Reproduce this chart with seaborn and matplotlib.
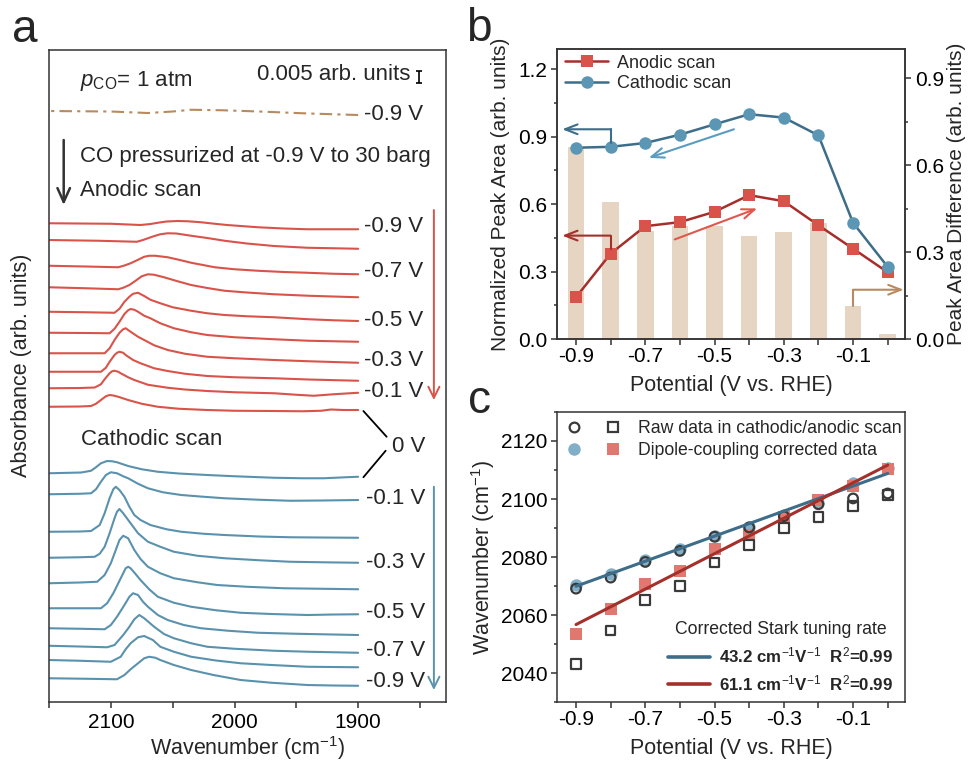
import numpy as np
import matplotlib
matplotlib.use("Agg")
import matplotlib.pyplot as plt
import seaborn as sns
from matplotlib.ticker import FixedLocator, MultipleLocator, NullLocator, FormatStrFormatter
from matplotlib.legend_handler import HandlerTuple
from matplotlib.lines import Line2D

# ---------------- data: panel a (absorbance in 1e-4 arb. units, rel. to 2150 cm-1) ----------------
PCO1_WN = [2150, 2100, 2070, 2050, 2035, 2010, 1980, 1940, 1900]
PCO1_ABS = [0, -2, -8, -2, 5, 3, -2, -10, -16]

ANODIC_V = ["-0.9 V", "-0.8 V", "-0.7 V", "-0.6 V", "-0.5 V", "-0.4 V", "-0.3 V", "-0.2 V", "-0.1 V", "0 V"]
ANODIC_WN = [
    [2150, 2125, 2100, 2076, 2068, 2062, 2055, 2046, 2038, 2027, 2016, 2006, 1981, 1960, 1941, 1920, 1900],
    [2150, 2110, 2079, 2074, 2066, 2060, 2054, 2047, 2035, 2022, 2008, 1990, 1968, 1941, 1920, 1900],
    [2150, 2120, 2094, 2089, 2084, 2078, 2073, 2069, 2064, 2054, 2045, 2035, 2016, 2000, 1981, 1960, 1941, 1920, 1900],
    [2150, 2120, 2094, 2090, 2085, 2080, 2075, 2070, 2065, 2057, 2046, 2035, 2022, 2008, 1990, 1968, 1940, 1920, 1900],
    [2150, 2120, 2097, 2093, 2089, 2085, 2082, 2078, 2073, 2068, 2060, 2050, 2035, 2022, 2008, 1990, 1968, 1940, 1920, 1900],
    [2150, 2120, 2101, 2097, 2093, 2089, 2086, 2084, 2081, 2078, 2073, 2068, 2060, 2049, 2035, 2022, 2000, 1968, 1940, 1920, 1900],
    [2150, 2120, 2105, 2101, 2097, 2093, 2090, 2088, 2084, 2078, 2073, 2065, 2054, 2040, 2022, 2000, 1968, 1940, 1900],
    [2150, 2120, 2108, 2104, 2101, 2097, 2095, 2093, 2090, 2088, 2082, 2076, 2065, 2054, 2040, 2022, 2000, 1968, 1940, 1900],
    [2150, 2125, 2113, 2108, 2105, 2101, 2099, 2097, 2094, 2092, 2086, 2081, 2070, 2054, 2040, 2022, 2000, 1968, 1950, 1936, 1920, 1900],
    [2150, 2125, 2116, 2112, 2108, 2104, 2101, 2098, 2094, 2086, 2075, 2062, 2045, 2022, 2000, 1968, 1945, 1930, 1922, 1912, 1900],
]
ANODIC_ABS = [
    [0, -1, -2, -7, -3, 2, 7, 9, 8, 4, -2, -7, -16, -21, -24, -24, -24],
    [0, -3, -7, 0, 14, 23, 27, 26, 17, 8, -3, -14, -24, -31, -33, -35],
    [0, -3, -6, 1, 10, 24, 36, 40, 40, 34, 24, 12, -6, -14, -20, -25, -28, -32, -34],
    [0, -4, -8, -2, 9, 26, 44, 52, 50, 40, 24, 9, -3, -14, -21, -28, -34, -37, -40],
    [0, -2, -4, 12, 40, 60, 72, 76, 63, 48, 34, 18, 4, -6, -13, -18, -22, -30, -34, -37],
    [0, -1, -2, 16, 44, 75, 90, 95, 92, 84, 68, 58, 38, 18, 2, -9, -18, -26, -32, -34, -36],
    [0, 0, 0, 20, 53, 82, 96, 100, 86, 66, 53, 32, 13, -2, -14, -20, -27, -32, -38],
    [0, 0, 0, 16, 40, 67, 76, 80, 76, 67, 47, 34, 14, 3, -8, -17, -22, -26, -31, -36],
    [0, 1, 3, 16, 36, 60, 68, 70, 66, 60, 44, 33, 14, 2, -5, -11, -16, -20, -26, -30, -24, -18],
    [0, 1, 3, 12, 27, 42, 47, 45, 40, 27, 12, 0, -8, -13, -16, -17, -18, -16, -11, -13, -13],
]

CATHODIC_V = ["0 V", "-0.1 V", "-0.2 V", "-0.3 V", "-0.4 V", "-0.5 V", "-0.6 V", "-0.7 V", "-0.8 V", "-0.9 V"]
CATHODIC_WN = [
    [2150, 2124, 2116, 2112, 2108, 2103, 2099, 2095, 2086, 2075, 2062, 2045, 2022, 2000, 1968, 1945, 1928, 1910, 1900],
    [2150, 2125, 2116, 2112, 2108, 2104, 2100, 2095, 2090, 2086, 2078, 2070, 2058, 2043, 2025, 2008, 1980, 1955, 1930, 1900],
    [2150, 2125, 2116, 2109, 2105, 2101, 2098, 2096, 2093, 2089, 2085, 2081, 2076, 2068, 2055, 2043, 2025, 2008, 1980, 1955, 1930, 1900],
    [2150, 2125, 2113, 2109, 2105, 2101, 2097, 2095, 2093, 2090, 2084, 2078, 2070, 2060, 2049, 2030, 2008, 1980, 1955, 1930, 1900],
    [2150, 2125, 2111, 2105, 2100, 2096, 2093, 2090, 2086, 2081, 2076, 2070, 2060, 2049, 2030, 2014, 1990, 1960, 1930, 1900],
    [2150, 2125, 2108, 2103, 2098, 2094, 2090, 2088, 2086, 2084, 2080, 2076, 2069, 2062, 2049, 2035, 2015, 1995, 1970, 1941, 1920, 1900],
    [2150, 2125, 2105, 2100, 2095, 2089, 2085, 2082, 2078, 2074, 2070, 2062, 2054, 2041, 2027, 2005, 1981, 1950, 1920, 1900],
    [2150, 2125, 2103, 2097, 2090, 2085, 2081, 2077, 2073, 2065, 2057, 2049, 2035, 2022, 2000, 1968, 1940, 1920, 1900],
    [2150, 2125, 2100, 2092, 2088, 2084, 2078, 2073, 2066, 2060, 2049, 2035, 2015, 1995, 1970, 1941, 1920, 1900],
    [2150, 2120, 2095, 2089, 2084, 2078, 2073, 2069, 2064, 2060, 2049, 2035, 2017, 1995, 1970, 1941, 1920, 1900],
]
CATHODIC_ABS = [
    [0, 3, 10, 24, 40, 49, 48, 44, 29, 16, 6, -1, -7, -12, -18, -20, -20, -16, -14],
    [0, 2, 4, 20, 50, 77, 88, 84, 72, 64, 42, 24, 8, -3, -10, -16, -22, -26, -25, -23],
    [0, 1, 3, 27, 74, 134, 170, 180, 167, 140, 100, 67, 47, 27, 10, 0, -8, -13, -19, -22, -23, -24],
    [0, 2, 4, 16, 44, 98, 158, 184, 195, 178, 138, 98, 64, 44, 24, 8, -2, -10, -16, -18, -20],
    [0, 3, 6, 33, 80, 133, 173, 190, 180, 133, 97, 66, 40, 20, 4, -7, -14, -20, -22, -24],
    [0, 0, 0, 20, 60, 100, 140, 160, 166, 160, 137, 113, 76, 46, 22, 6, -8, -18, -23, -27, -25, -24],
    [0, -2, -4, 13, 46, 93, 126, 140, 133, 106, 86, 53, 33, 13, 0, -10, -18, -22, -25, -27],
    [0, -3, -6, 3, 43, 76, 106, 123, 110, 76, 47, 30, 10, -4, -12, -20, -24, -26, -28],
    [0, -3, -7, 13, 43, 67, 91, 96, 80, 53, 33, 13, -2, -13, -20, -27, -28, -29],
    [0, -2, -4, 13, 36, 60, 80, 86, 82, 73, 53, 33, 13, -7, -18, -27, -29, -30],
]

# ---------------- data: panels b and c ----------------
POTENTIAL = [-0.9, -0.8, -0.7, -0.6, -0.5, -0.4, -0.3, -0.2, -0.1, 0.0]
ANODIC_AREA = [0.186, 0.380, 0.502, 0.520, 0.566, 0.640, 0.613, 0.506, 0.402, 0.297]
CATHODIC_AREA = [0.851, 0.855, 0.872, 0.909, 0.955, 1.000, 0.985, 0.906, 0.517, 0.321]
AREA_DIFF = [0.662, 0.472, 0.374, 0.389, 0.389, 0.356, 0.370, 0.399, 0.113, 0.018]

RAW_CATH = [2069.1, 2072.9, 2078.3, 2082.1, 2087.0, 2090.2, 2094.1, 2098.2, 2100.2, 2101.9]
RAW_ANOD = [2043.0, 2054.7, 2065.1, 2070.0, 2078.1, 2084.1, 2090.1, 2093.9, 2097.6, 2101.4]
COR_CATH = [2070.3, 2074.0, 2079.1, 2082.6, 2087.3, 2090.4, 2094.4, 2098.5, 2105.4, 2110.6]
COR_ANOD = [2053.6, 2062.2, 2070.8, 2075.2, 2082.6, 2087.5, 2093.9, 2099.6, 2104.5, 2110.2]
FIT_CATH = (43.2, 2108.8)   # slope (cm-1/V), intercept at 0 V
FIT_ANOD = (61.1, 2111.7)

# colours
RED = "#d9534a"
BLUE = "#5a92ad"
BROWN = "#b88a5e"
RED_DK = "#a5302b"
BLUE_DK = "#3d6d88"
RED_MK = "#d9534a"
BLUE_MK = "#5b97b5"
BAR = "#e6d5c3"
GREY = "#333333"

sns.set_style("ticks")
plt.rcParams["font.family"] = ["Liberation Sans", "DejaVu Sans"]
plt.rcParams["axes.unicode_minus"] = False
plt.rcParams["mathtext.fontset"] = "custom"
plt.rcParams["mathtext.rm"] = "Liberation Sans"
plt.rcParams["mathtext.it"] = "Liberation Sans:italic"
plt.rcParams["mathtext.bf"] = "Liberation Sans:bold"
plt.rcParams["axes.edgecolor"] = GREY
plt.rcParams["axes.linewidth"] = 1.1
plt.rcParams["xtick.color"] = GREY
plt.rcParams["ytick.color"] = GREY
plt.rcParams["xtick.labelcolor"] = "black"
plt.rcParams["ytick.labelcolor"] = "black"

fig = plt.figure(figsize=(9.7, 7.6), dpi=100)

# ======================= panel a =======================
ax_a = fig.add_axes([0.0505, 0.0763, 0.4093, 0.8579])
ANODIC_OFFSET = [1915, 1848, 1745, 1659, 1561, 1477, 1395, 1321, 1255, 1181]
CATHODIC_OFFSET = [915, 831, 681, 577, 475, 375, 295, 225, 168, 95]

sns.lineplot(x=PCO1_WN, y=np.array(PCO1_ABS) + 2364, color=BROWN, lw=1.5,
             linestyle=(0, (6, 2.5, 1.5, 2.5)), estimator=None, ax=ax_a)
for wn, ab, off in zip(ANODIC_WN, ANODIC_ABS, ANODIC_OFFSET):
    sns.lineplot(x=wn, y=np.array(ab) + off, color=RED, lw=1.5, estimator=None, ax=ax_a)
for wn, ab, off in zip(CATHODIC_WN, CATHODIC_ABS, CATHODIC_OFFSET):
    sns.lineplot(x=wn, y=np.array(ab) + off, color=BLUE, lw=1.5, estimator=None, ax=ax_a)

ax_a.set_xlim(2150, 1829)
ax_a.set_ylim(0, 2608)
ax_a.xaxis.set_major_locator(FixedLocator([2100, 2000, 1900]))
ax_a.xaxis.set_minor_locator(FixedLocator([2150, 2050, 1950, 1850]))
ax_a.yaxis.set_major_locator(NullLocator())
ax_a.tick_params(axis="x", which="both", length=4, width=1.1, labelsize=15, pad=4)
ax_a.set_xlabel("Wavenumber (cm$^{-1}$)", fontsize=15.5)
ax_a.set_ylabel("Absorbance (arb. units)", fontsize=15.5)
ax_a.xaxis.set_label_coords(0.5, -0.049)
ax_a.yaxis.set_label_coords(-0.043, 0.517)

fs = 16
ax_a.text(2125, 2464, r"$p_{\mathrm{CO}}$= 1 atm", fontsize=fs, va="baseline")
ax_a.text(1982, 2488, "0.005 arb. units", fontsize=fs, va="baseline")
ax_a.errorbar([1850.5], [2500], yerr=[25], color="black", lw=1.2, capsize=2.5, capthick=1.2)
ax_a.text(1895.6, 2350, "-0.9 V", fontsize=fs, va="center")
ax_a.text(2125, 2181, "CO pressurized at -0.9 V to 30 barg", fontsize=fs, va="center")
ax_a.text(2125, 2045, "Anodic scan", fontsize=fs, va="center")
ax_a.text(2124, 1052, "Cathodic scan", fontsize=fs, va="center")
for lab, y in zip(["-0.9 V", "-0.7 V", "-0.5 V", "-0.3 V", "-0.1 V"], [1901, 1721, 1528, 1368, 1241]):
    ax_a.text(1895.6, y, lab, fontsize=fs, va="center")
for lab, y in zip(["-0.1 V", "-0.3 V", "-0.5 V", "-0.7 V", "-0.9 V"], [816, 560, 358, 208, 84]):
    ax_a.text(1894, y, lab, fontsize=fs, va="center")
ax_a.text(1872.4, 1021, "0 V", fontsize=fs, va="center")
ax_a.plot([1895.8, 1877], [1164, 1061], color="black", lw=1.3)
ax_a.plot([1895.8, 1877.8], [899, 1005], color="black", lw=1.3)

arrow_head = "->,head_length=0.8,head_width=0.4"
ax_a.annotate("", xy=(1838.8, 1208), xytext=(1838.8, 1968),
              arrowprops=dict(arrowstyle=arrow_head, color=RED, lw=1.4, shrinkA=0, shrinkB=0))
ax_a.annotate("", xy=(1838.8, 48), xytext=(1838.8, 861),
              arrowprops=dict(arrowstyle=arrow_head, color=BLUE, lw=1.4, shrinkA=0, shrinkB=0))
ax_a.annotate("", xy=(2138.1, 1988), xytext=(2138.1, 2248),
              arrowprops=dict(arrowstyle="->,head_length=1.0,head_width=0.45", color=GREY, lw=1.8,
                              shrinkA=0, shrinkB=0))

# ======================= panel b =======================
ax_b = fig.add_axes([0.5742, 0.5539, 0.3588, 0.3816])
ax_b2 = ax_b.twinx()
sns.barplot(x=POTENTIAL, y=AREA_DIFF, native_scale=True, width=0.48, color=BAR,
            saturation=1, errorbar=None, linewidth=0, ax=ax_b2)
sns.lineplot(x=POTENTIAL, y=ANODIC_AREA, color=RED_DK, lw=1.8, marker="s", markersize=8.5,
             markerfacecolor=RED_MK, markeredgecolor=RED_MK, markeredgewidth=0,
             label="Anodic scan", estimator=None, ax=ax_b)
sns.lineplot(x=POTENTIAL, y=CATHODIC_AREA, color=BLUE_DK, lw=1.8, marker="o", markersize=9,
             markerfacecolor=BLUE_MK, markeredgecolor=BLUE_MK, markeredgewidth=0,
             label="Cathodic scan", estimator=None, ax=ax_b)
ax_b.set_zorder(ax_b2.get_zorder() + 1)
ax_b.patch.set_visible(False)

ax_b.set_xlim(-0.955, 0.05)
ax_b.set_ylim(0, 1.29)
ax_b2.set_ylim(0, 1.0)
for ax in (ax_b, ax_b2):
    ax.xaxis.set_major_locator(FixedLocator([-0.9, -0.7, -0.5, -0.3, -0.1]))
    ax.xaxis.set_minor_locator(FixedLocator([-0.8, -0.6, -0.4, -0.2, 0.0]))
    ax.yaxis.set_major_locator(MultipleLocator(0.3))
    ax.yaxis.set_minor_locator(MultipleLocator(0.15))
    ax.yaxis.set_major_formatter(FormatStrFormatter("%.1f"))
    ax.tick_params(axis="y", which="major", length=4, width=1.1, labelsize=15, pad=3)
    ax.tick_params(axis="y", which="minor", length=2.5, width=1.1)
ax_b.xaxis.set_major_formatter(FormatStrFormatter("%.1f"))
ax_b.tick_params(axis="x", which="both", length=4, width=1.1, labelsize=15, pad=2)
ax_b.set_xlabel("Potential (V vs. RHE)", fontsize=15.5)
ax_b.set_ylabel("Normalized Peak Area (arb. units)", fontsize=15)
ax_b2.set_ylabel("Peak Area Difference (arb. units)", fontsize=15)
ax_b.xaxis.set_label_coords(0.5, -0.124)
ax_b.yaxis.set_label_coords(-0.135, 0.5)
ax_b2.yaxis.set_label_coords(1.121, 0.5)
ax_b.legend(loc="upper left", bbox_to_anchor=(0.023, 0.981), frameon=False, fontsize=13,
            handlelength=2.4, handletextpad=0.5, labelspacing=0.2, borderpad=0, borderaxespad=0)


def bracket(ax, xs, ys, color):
    ax.plot(xs[:-1], ys[:-1], color=color, lw=1.5)
    ax.annotate("", xy=(xs[-1], ys[-1]), xytext=(xs[-2], ys[-2]),
                arrowprops=dict(arrowstyle="->,head_length=0.9,head_width=0.35", color=color,
                                lw=1.5, shrinkA=0, shrinkB=0))


bracket(ax_b, [-0.8, -0.8, -0.94], [0.87, 0.933, 0.933], BLUE_DK)
bracket(ax_b, [-0.8, -0.8, -0.94], [0.40, 0.460, 0.460], RED_DK)
bracket(ax_b2, [-0.1, -0.1, 0.046], [0.113, 0.170, 0.170], BROWN)
ax_b.annotate("", xy=(-0.69, 0.806), xytext=(-0.444, 0.933),
              arrowprops=dict(arrowstyle="->,head_length=0.9,head_width=0.35", color="#5a9cc0",
                              lw=1.5, shrinkA=0, shrinkB=0))
ax_b.annotate("", xy=(-0.377, 0.581), xytext=(-0.615, 0.443),
              arrowprops=dict(arrowstyle="->,head_length=0.9,head_width=0.35", color="#e0584c",
                              lw=1.5, shrinkA=0, shrinkB=0))

# ======================= panel c =======================
ax_c = fig.add_axes([0.5742, 0.0763, 0.3588, 0.3816])
sns.scatterplot(x=POTENTIAL, y=COR_CATH, marker="o", s=80, color="#82afc8",
                linewidth=0, zorder=2, ax=ax_c)
sns.scatterplot(x=POTENTIAL, y=COR_ANOD, marker="s", s=80, color="#e07870",
                linewidth=0, zorder=2, ax=ax_c)
sns.scatterplot(x=POTENTIAL, y=RAW_CATH, marker="o", s=48, facecolor="none",
                edgecolor="#3a3a3a", linewidth=1.6, zorder=3, ax=ax_c)
sns.scatterplot(x=POTENTIAL, y=RAW_ANOD, marker="s", s=48, facecolor="none",
                edgecolor="#3a3a3a", linewidth=1.6, zorder=3, ax=ax_c)
fit_x = np.array([-0.9, 0.0])
sns.lineplot(x=fit_x, y=FIT_CATH[1] + FIT_CATH[0] * fit_x, color=BLUE_DK, lw=2.2,
             estimator=None, zorder=4, ax=ax_c)
sns.lineplot(x=fit_x, y=FIT_ANOD[1] + FIT_ANOD[0] * fit_x, color=RED_DK, lw=2.2,
             estimator=None, zorder=4, ax=ax_c)

ax_c.set_xlim(-0.955, 0.05)
ax_c.set_ylim(2030, 2130)
ax_c.xaxis.set_major_locator(FixedLocator([-0.9, -0.7, -0.5, -0.3, -0.1]))
ax_c.xaxis.set_minor_locator(FixedLocator([-0.8, -0.6, -0.4, -0.2, 0.0]))
ax_c.xaxis.set_major_formatter(FormatStrFormatter("%.1f"))
ax_c.yaxis.set_major_locator(MultipleLocator(20))
ax_c.yaxis.set_minor_locator(MultipleLocator(10))
ax_c.tick_params(axis="x", which="both", length=4, width=1.1, labelsize=15, pad=2)
ax_c.tick_params(axis="y", which="major", length=4, width=1.1, labelsize=15, pad=3)
ax_c.tick_params(axis="y", which="minor", length=2.5, width=1.1)
ax_c.set_xlabel("Potential (V vs. RHE)", fontsize=15.5)
ax_c.set_ylabel("Wavenumber (cm$^{-1}$)", fontsize=15.5)
ax_c.xaxis.set_label_coords(0.5, -0.124)
ax_c.yaxis.set_label_coords(-0.172, 0.5)

mk = dict(linestyle="none")
raw_c = Line2D([], [], marker="o", markersize=7, markerfacecolor="none", markeredgecolor="#3a3a3a",
               markeredgewidth=1.6, **mk)
raw_a = Line2D([], [], marker="s", markersize=7, markerfacecolor="none", markeredgecolor="#3a3a3a",
               markeredgewidth=1.6, **mk)
cor_c = Line2D([], [], marker="o", markersize=9, markerfacecolor="#82afc8", markeredgewidth=0, **mk)
cor_a = Line2D([], [], marker="s", markersize=8.5, markerfacecolor="#e07870", markeredgewidth=0, **mk)
leg1 = ax_c.legend([(raw_c, raw_a), (cor_c, cor_a)],
                   ["Raw data in cathodic/anodic scan", "Dipole-coupling corrected data"],
                   handler_map={tuple: HandlerTuple(ndivide=None, pad=1.4)},
                   loc="upper left", bbox_to_anchor=(0.029, 0.973), frameon=False, fontsize=12.7,
                   handlelength=3.0, handletextpad=1.0, labelspacing=0.3, borderpad=0, borderaxespad=0)
ax_c.add_artist(leg1)

fit_c = Line2D([], [], color=BLUE_DK, lw=2.6)
fit_a = Line2D([], [], color=RED_DK, lw=2.6)
ax_c.legend([fit_c, fit_a],
            ["43.2 cm$^{-1}$V$^{-1}$  R$^{2}$=0.99", "61.1 cm$^{-1}$V$^{-1}$  R$^{2}$=0.99"],
            title="Corrected Stark tuning rate", title_fontsize=12.7,
            prop={"weight": "bold", "size": 12.2}, loc="lower right",
            bbox_to_anchor=(0.965, 0.03), frameon=False, handlelength=2.5,
            handletextpad=0.5, labelspacing=0.45, borderpad=0, borderaxespad=0)

# panel letters
fig.text(0.012, 0.9447, "a", fontsize=33, va="baseline")
fig.text(0.480, 0.946, "b", fontsize=33, va="baseline")
fig.text(0.482, 0.4566, "c", fontsize=33, va="baseline")

fig.savefig("out.png", dpi=100)
